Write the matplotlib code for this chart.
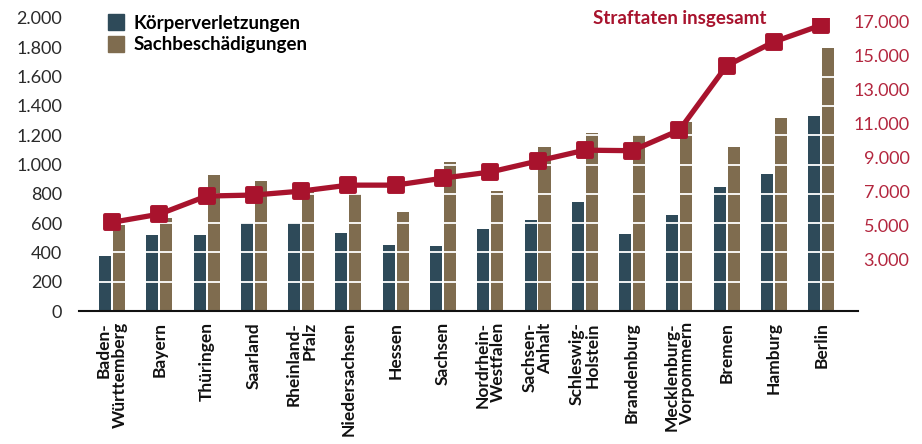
import matplotlib.pyplot as plt
import numpy as np
from matplotlib.lines import Line2D
from matplotlib.markers import MarkerStyle


# =====================================================
# DATA
# =====================================================

laender = [
    "Baden-\nWürttemberg", "Bayern", "Thüringen", "Saarland",
    "Rheinland-\nPfalz", "Niedersachsen", "Hessen", "Sachsen",
    "Nordrhein-\nWestfalen", "Sachsen-\nAnhalt", "Schleswig-\nHolstein",
    "Brandenburg", "Mecklenburg-\nVorpommern", "Bremen", "Hamburg", "Berlin",
]

koerperverletzungen = [375, 520, 520, 600, 600, 532, 450, 444,
                       560, 621, 744, 526, 655, 846, 935, 1331]

sachbeschaedigungen = [590, 635, 928, 887, 815, 799, 676, 1015,
                       819, 1120, 1213, 1201, 1288, 1119, 1317, 1793]

straftaten_gesamt = [5200, 5680, 6740, 6800, 7030, 7380, 7380, 7790,
                     8150, 8790, 9430, 9400, 10600, 14380, 15780, 16760]

left_ticks = list(range(0, 2001, 200))
right_ticks = list(range(3000, 17001, 2000))


# =====================================================
# STYLE
# =====================================================

DARK = "#2E4A59"
BROWN = "#7F6C4F"
RED = "#A8132D"
RED_TEXT = "#B3263E"
BOLD = ["Lato", "DejaVu Sans"]

plt.rcParams["font.family"] = ["Lato", "DejaVu Sans"]

fig = plt.figure(figsize=(9.22, 4.44), dpi=100)
ax = fig.add_axes([0.0857, 0.2995, 0.8449, 0.66])

x = np.arange(len(laender))
w = 0.255
off = 0.148


# =====================================================
# BARS
# =====================================================

ax.bar(x - off, koerperverletzungen, width=w, color=DARK, zorder=2)
ax.bar(x + off, sachbeschaedigungen, width=w, color=BROWN, zorder=2)

for t in left_ticks[1:]:
    ax.axhline(t, color="white", linewidth=1.3, zorder=3)

ax.set_xlim(-0.7, 15.78)
ax.set_ylim(0, 2000)
ax.set_yticks(left_ticks)
ax.set_yticklabels([f"{t:,}".replace(",", ".") for t in left_ticks],
                   fontsize=13, color="#2A2A2A")
ax.tick_params(axis="y", length=0, pad=12)

ax.set_xticks(x)
ax.set_xticklabels(laender, rotation=90, fontsize=12.5, fontweight="bold",
                   family=BOLD, color="#111111",
                   ha="center", va="top", multialignment="right",
                   linespacing=1.0)
ax.tick_params(axis="x", length=0, pad=8)

for s in ["top", "left", "right"]:
    ax.spines[s].set_visible(False)
ax.spines["bottom"].set_linewidth(1.5)
ax.spines["bottom"].set_color("#111111")


# =====================================================
# TOTAL LINE (RIGHT AXIS)
# =====================================================

ax2 = ax.twinx()
ax2.plot(x, straftaten_gesamt, color=RED, linewidth=3.8,
         marker=MarkerStyle("s", joinstyle="round"),
         markersize=10.5, markeredgewidth=2.8, markeredgecolor=RED,
         markerfacecolor=RED, solid_joinstyle="round")

ax2.set_ylim(0, 17180)
ax2.set_yticks(right_ticks)
ax2.set_yticklabels([f"{t:,}".replace(",", ".") for t in right_ticks],
                    fontsize=13, color=RED_TEXT, ha="right")
ax2.tick_params(axis="y", length=0, pad=37)
for s in ax2.spines.values():
    s.set_visible(False)

fig.text(0.7375, 0.958, "Straftaten insgesamt", color=RED, fontsize=13.5,
         fontweight="bold", family=BOLD, ha="center", va="center")


# =====================================================
# LEGEND
# =====================================================

handles = [
    Line2D([], [], linestyle="none", marker="s", markersize=12,
           markerfacecolor=DARK, markeredgecolor=DARK),
    Line2D([], [], linestyle="none", marker="s", markersize=12,
           markerfacecolor=BROWN, markeredgecolor=BROWN),
]
fig.legend(handles, ["Körperverletzungen", "Sachbeschädigungen"],
           loc="upper left", bbox_to_anchor=(0.097, 1.005), frameon=False,
           handlelength=1.0, handletextpad=0.45, labelspacing=0.25,
           prop={"family": BOLD, "weight": "bold", "size": 13.5})

fig.savefig("out.png", dpi=100)
